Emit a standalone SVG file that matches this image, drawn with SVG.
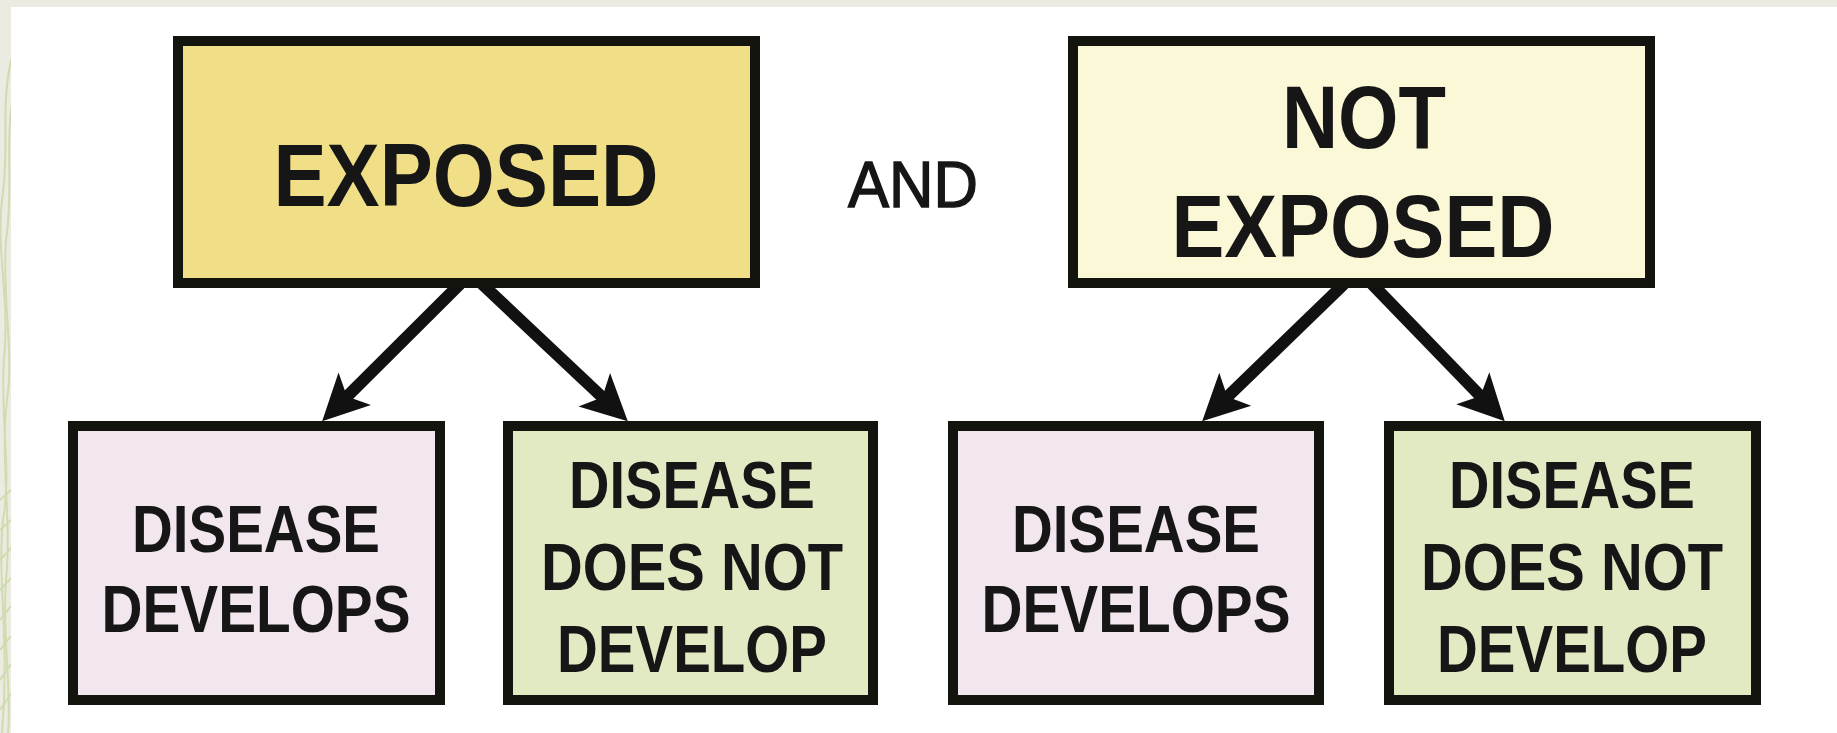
<svg xmlns="http://www.w3.org/2000/svg" width="1837" height="733" viewBox="0 0 1837 733">
<style>
.box{stroke:#14140e;stroke-width:10}
.t{font-family:"Liberation Sans",Arial,Helvetica,sans-serif;font-weight:bold;fill:#161616;text-anchor:middle}
.big{font-size:89px}
.sm{font-size:67px}
.and{font-size:64px;font-weight:normal;stroke:#161616;stroke-width:1.4}
.conn{stroke:#111;stroke-width:12;fill:none;marker-end:url(#ah)}
.deco{fill:none;stroke:#cfdcb0;stroke-width:2}
</style>
<defs>
<marker id="ah" markerUnits="userSpaceOnUse" orient="auto" overflow="visible" markerWidth="10" markerHeight="10" refX="0" refY="0">
<path d="M28,0 L-18,-23 L-7,0 L-18,23 Z" fill="#111"/>
</marker>
<clipPath id="strip"><rect x="0" y="0" width="11" height="733"/></clipPath>
</defs>
<rect x="0" y="0" width="1837" height="733" fill="#ecebe1"/>
<rect x="11" y="7" width="1826" height="726" fill="#ffffff"/>
<g clip-path="url(#strip)">
<path class="deco" d="M11,60 C0,110 10,150 2,200 C-4,250 10,300 4,360 C0,420 12,470 3,520 C-3,580 10,640 2,733"/>
<path class="deco" d="M14,90 C4,140 14,190 6,240 C2,300 14,350 7,400 C0,460 12,520 6,580 C2,640 12,690 8,733"/>
<path class="deco" d="M0,560 L11,548 M0,590 L11,578 M0,620 L11,606 M0,650 L11,636 M0,680 L11,664 M0,710 L11,694 M0,500 L11,490 M0,530 L11,520"/>
</g>
<g id="connectors">
<path class="conn" d="M460,284 L342,401.4"/>
<path class="conn" d="M482,284 L607.4,402"/>
<path class="conn" d="M1344,284 L1222.3,401.7"/>
<path class="conn" d="M1372,284 L1485.3,401.1"/>
</g>
<g id="exposed">
<rect class="box" x="178" y="41" width="577" height="242" fill="#f1df88"/>
<text class="t big" x="466" y="206" textLength="385" lengthAdjust="spacingAndGlyphs">EXPOSED</text>
</g>
<g id="and">
<text class="t and" x="913" y="207" textLength="130" lengthAdjust="spacingAndGlyphs">AND</text>
</g>
<g id="not-exposed">
<rect class="box" x="1073" y="41" width="577" height="242" fill="#fbf8d8"/>
<text class="t big" x="1364" y="148" textLength="164" lengthAdjust="spacingAndGlyphs">NOT</text>
<text class="t big" x="1363" y="257" textLength="383" lengthAdjust="spacingAndGlyphs">EXPOSED</text>
</g>
<g id="exposed-develops">
<rect class="box" x="73" y="426" width="367" height="274" fill="#f3e7ef"/>
<text class="t sm" x="256" y="552" textLength="248" lengthAdjust="spacingAndGlyphs">DISEASE</text>
<text class="t sm" x="256" y="632" textLength="309" lengthAdjust="spacingAndGlyphs">DEVELOPS</text>
</g>
<g id="exposed-not-develop">
<rect class="box" x="508" y="426" width="365" height="274" fill="#e2eac4"/>
<text class="t sm" x="692" y="508" textLength="246" lengthAdjust="spacingAndGlyphs">DISEASE</text>
<text class="t sm" x="692" y="590" textLength="302" lengthAdjust="spacingAndGlyphs">DOES NOT</text>
<text class="t sm" x="692" y="672" textLength="270" lengthAdjust="spacingAndGlyphs">DEVELOP</text>
</g>
<g id="not-exposed-develops">
<rect class="box" x="953" y="426" width="366" height="274" fill="#f3e7ef"/>
<text class="t sm" x="1136" y="552" textLength="248" lengthAdjust="spacingAndGlyphs">DISEASE</text>
<text class="t sm" x="1136" y="632" textLength="309" lengthAdjust="spacingAndGlyphs">DEVELOPS</text>
</g>
<g id="not-exposed-not-develop">
<rect class="box" x="1389" y="426" width="367" height="274" fill="#e2eac4"/>
<text class="t sm" x="1572" y="508" textLength="246" lengthAdjust="spacingAndGlyphs">DISEASE</text>
<text class="t sm" x="1572" y="590" textLength="302" lengthAdjust="spacingAndGlyphs">DOES NOT</text>
<text class="t sm" x="1572" y="672" textLength="270" lengthAdjust="spacingAndGlyphs">DEVELOP</text>
</g>
</svg>
